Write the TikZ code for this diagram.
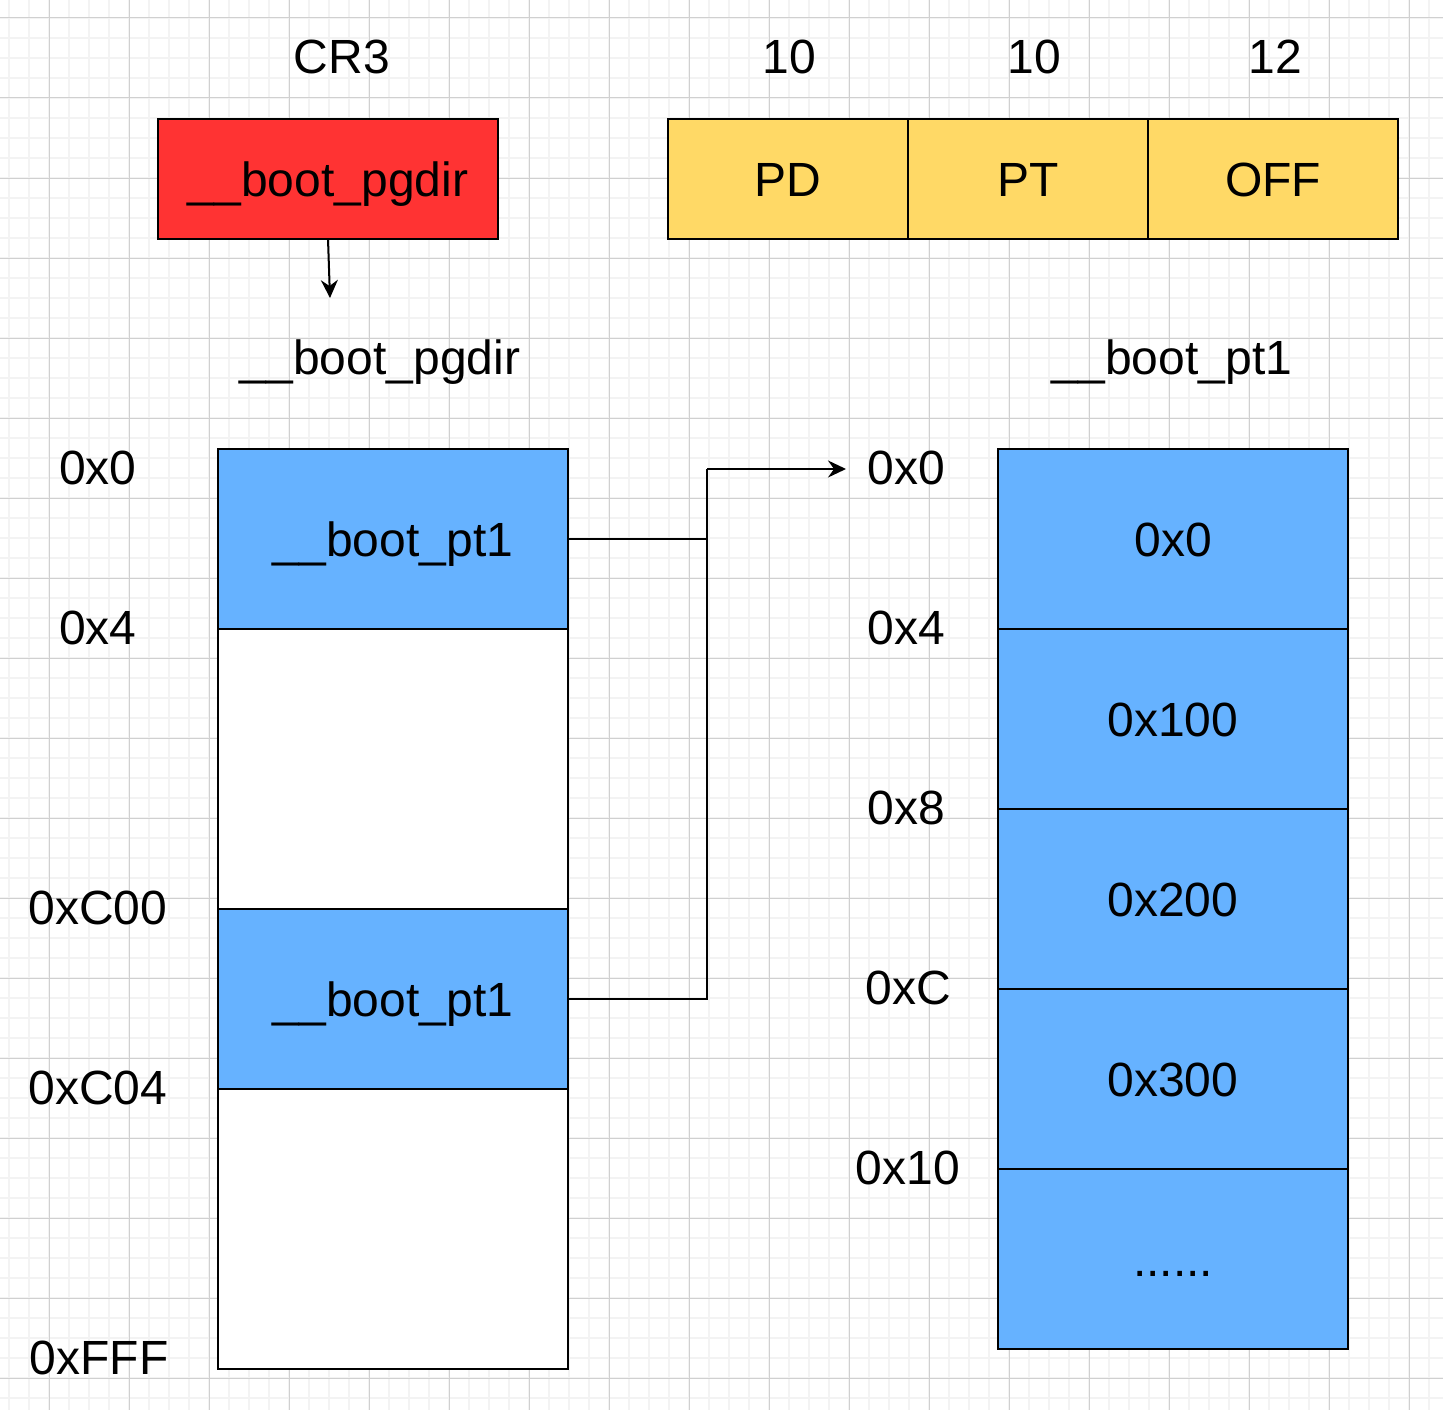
\documentclass[tikz,border=0pt]{standalone}
\usepackage{fontspec}
\setmainfont{Liberation Sans}
\usetikzlibrary{arrows.meta}
\definecolor{boxred}{RGB}{255,51,51}
\definecolor{boxyellow}{RGB}{255,217,102}
\definecolor{boxblue}{RGB}{102,178,255}
\definecolor{gridminor}{RGB}{243,243,243}
\definecolor{gridmajor}{RGB}{208,208,208}
\begin{document}
\begin{tikzpicture}[x=1pt,y=-1pt,
  every node/.style={font=\fontsize{48}{57}\selectfont, inner sep=0pt, outer sep=0pt, text height=34pt, text depth=0pt},
  cell/.style={draw=black, line width=2pt, minimum width=#1},
  cell/.default=350pt,
  lbl/.style={},
  conn/.style={line width=2pt, draw=black},
  tip/.style={-{Stealth[length=18pt,width=17pt,inset=6pt]}}
]
\useasboundingbox (0,0) rectangle (1443,1410);
\fill[white] (0,0) rectangle (1443,1410);
% grid
\foreach \x in {9,29,...,1443} \draw[gridminor, line width=1.5pt] (\x,0) -- (\x,1410);
\foreach \y in {-2,18,...,1410} \draw[gridminor, line width=1.5pt] (0,\y) -- (1443,\y);
\foreach \x in {49,129,...,1443} \draw[gridmajor, line width=1pt] (\x,0) -- (\x,1410);
\foreach \y in {18,98,...,1410} \draw[gridmajor, line width=1pt] (0,\y) -- (1443,\y);

% top row
\node[lbl] (cr3) at (342,57) {CR3};
\node[cell=340pt, fill=boxred, minimum height=120pt] (cr3box) at (328,179) {\_\_boot\_pgdir};
\node[lbl] (b1) at (789,57) {10};
\node[lbl] (b2) at (1034,57) {10};
\node[lbl] (b3) at (1275,57) {12};
\node[cell=240pt, fill=boxyellow, minimum height=120pt] (pd) at (788,179) {PD};
\node[cell=240pt, fill=boxyellow, minimum height=120pt] (pt) at (1028,179) {PT};
\node[cell=250pt, fill=boxyellow, minimum height=120pt] (off) at (1273,179) {OFF};

% titles
\node[lbl] (pgdirtitle) at (380,357) {\_\_boot\_pgdir};
\node[lbl] (pt1title) at (1172,357) {\_\_boot\_pt1};

% pgdir table
\node[cell, fill=boxblue, minimum height=180pt] (g0) at (393,539) {\_\_boot\_pt1};
\node[cell, fill=white, minimum height=280pt] (g1) at (393,769) {};
\node[cell, fill=boxblue, minimum height=180pt] (g2) at (393,999) {\_\_boot\_pt1};
\node[cell, fill=white, minimum height=280pt] (g3) at (393,1229) {};

% pt1 table
\node[cell, fill=boxblue, minimum height=180pt] (t0) at (1173,539) {0x0};
\node[cell, fill=boxblue, minimum height=180pt] (t1) at (1173,719) {0x100};
\node[cell, fill=boxblue, minimum height=180pt] (t2) at (1173,899) {0x200};
\node[cell, fill=boxblue, minimum height=180pt] (t3) at (1173,1079) {0x300};
\node[cell, fill=boxblue, minimum height=180pt] (t4) at (1173,1259) {......};

% left addresses
\node[lbl] (la0) at (98,467) {0x0};
\node[lbl] (la1) at (98,627) {0x4};
\node[lbl] (la2) at (98,907) {0xC00};
\node[lbl] (la3) at (98,1087) {0xC04};
\node[lbl] (la4) at (99,1357) {0xFFF};

% right addresses
\node[lbl] (ra0) at (906,467) {0x0};
\node[lbl] (ra1) at (906,627) {0x4};
\node[lbl] (ra2) at (906,807) {0x8};
\node[lbl] (ra3) at (908,987) {0xC};
\node[lbl] (ra4) at (908,1167) {0x10};

% connectors
\coordinate (cr3tip) at (330,298);
\draw[conn, tip] (cr3box.south) -- (cr3tip);
\coordinate (elbow) at (707,469);
\coordinate (pt1tip) at (846,469);
\draw[conn] (g0.east) -- (g0.east -| elbow);
\draw[conn] (g2.east) -- (g2.east -| elbow) -- (elbow);
\draw[conn, tip] (elbow) -- (pt1tip);
\end{tikzpicture}
\end{document}
